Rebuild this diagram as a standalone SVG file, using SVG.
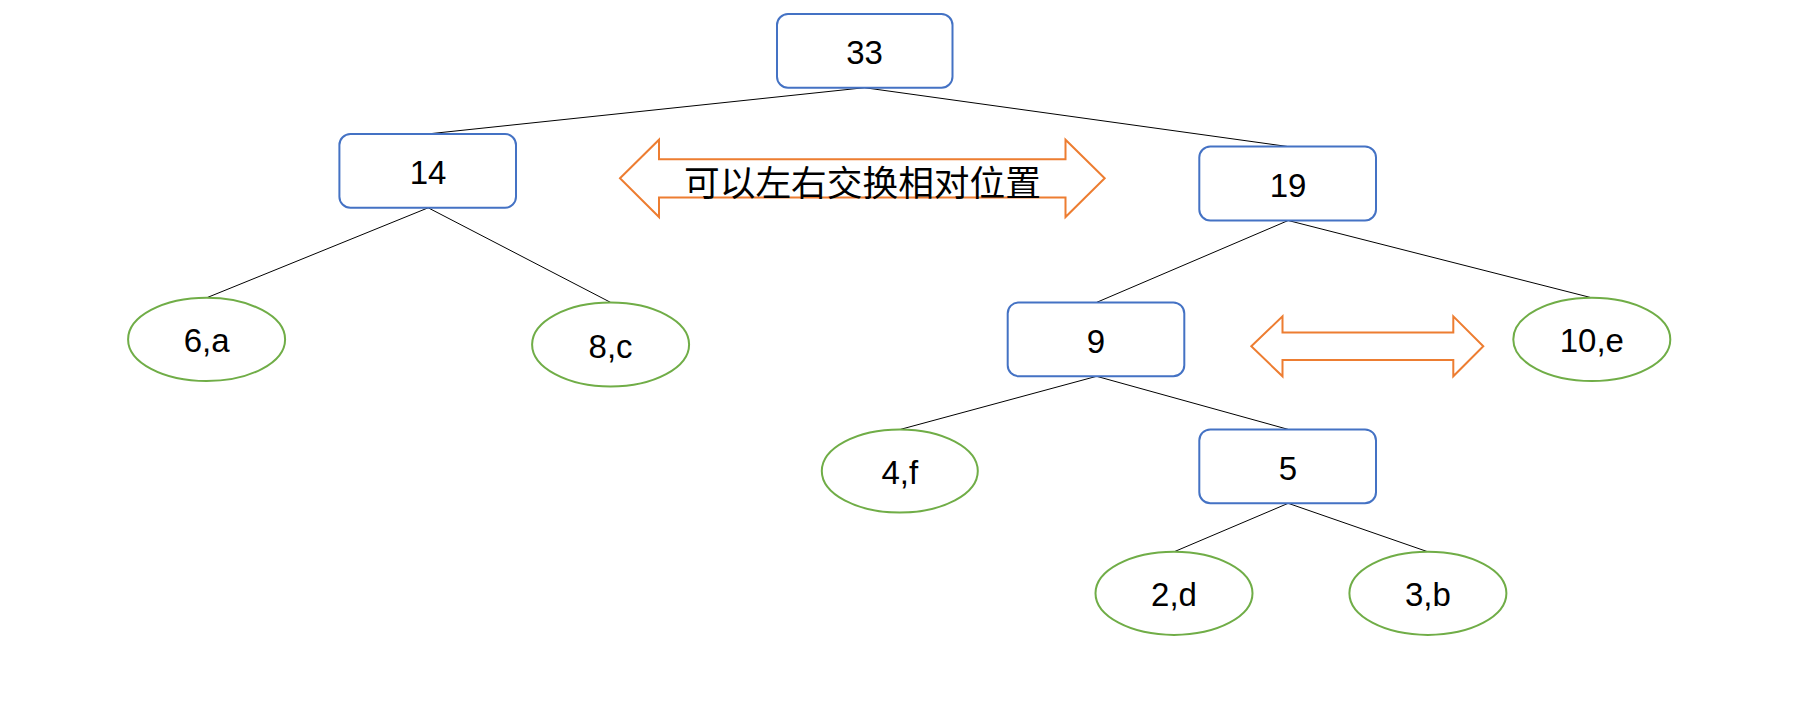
<svg xmlns="http://www.w3.org/2000/svg" width="1810" height="718" viewBox="0 0 1810 718">
<style>
.box{fill:#fff;stroke:#4472C4;stroke-width:2}
.leaf{fill:#fff;stroke:#70AD47;stroke-width:2}
.arr{fill:#fff;stroke:#ED7D31;stroke-width:2;stroke-linejoin:miter}
.edge{stroke:#000;stroke-width:1;fill:none}
.lbl{font-family:"Liberation Sans","Noto Sans CJK SC",sans-serif;font-size:33px;fill:#000;text-anchor:middle;dominant-baseline:central}
.cjk{font-family:"Noto Sans CJK SC","Liberation Sans",sans-serif;font-size:35.7px;fill:#000;text-anchor:middle;dominant-baseline:central}
</style>
<rect width="1810" height="718" fill="#fff"/>
<g id="connectors">
<line class="edge" x1="864.5" y1="87.7" x2="428.2" y2="133.9"/>
<line class="edge" x1="864.5" y1="87.7" x2="1288.2" y2="146.6"/>
<line class="edge" x1="428.2" y1="207.8" x2="206.6" y2="297.8"/>
<line class="edge" x1="428.2" y1="207.8" x2="610.6" y2="302.4"/>
<line class="edge" x1="1288.2" y1="220.5" x2="1096.6" y2="302.4"/>
<line class="edge" x1="1288.2" y1="220.5" x2="1591.8" y2="297.8"/>
<line class="edge" x1="1096.6" y1="376.3" x2="900.4" y2="429.4"/>
<line class="edge" x1="1096.6" y1="376.3" x2="1288.2" y2="429.4"/>
<line class="edge" x1="1288.2" y1="503.3" x2="1174" y2="551.8"/>
<line class="edge" x1="1288.2" y1="503.3" x2="1427.9" y2="551.8"/>
</g>
<g id="swap-arrow-1">
<polygon class="arr" points="620,178.3 659,139.7 659,159.3 1065.5,159.3 1065.5,139.7 1104.7,178.3 1065.5,217 1065.5,197.4 659,197.4 659,217"/>
<text class="cjk" x="862.5" y="180">可以左右交换相对位置</text>
</g>
<g id="swap-arrow-2">
<polygon class="arr" points="1251.3,346.3 1282.5,316.3 1282.5,332.4 1453.3,332.4 1453.3,316.3 1483.3,346.3 1453.3,376.3 1453.3,360.1 1282.5,360.1 1282.5,376.3"/>
</g>
<g id="n33"><rect class="box" x="777" y="14" width="175.5" height="73.7" rx="11"/><text class="lbl" x="864.5" y="52">33</text></g>
<g id="n14"><rect class="box" x="339.4" y="134" width="176.6" height="73.8" rx="11"/><text class="lbl" x="428" y="172">14</text></g>
<g id="n19"><rect class="box" x="1199.3" y="146.6" width="176.7" height="73.9" rx="11"/><text class="lbl" x="1288" y="185">19</text></g>
<g id="n9"><rect class="box" x="1007.7" y="302.4" width="176.6" height="73.9" rx="11"/><text class="lbl" x="1096" y="341">9</text></g>
<g id="n5"><rect class="box" x="1199.3" y="429.4" width="176.7" height="73.9" rx="11"/><text class="lbl" x="1288" y="468">5</text></g>
<g id="n6a"><ellipse class="leaf" cx="206.6" cy="339.4" rx="78.5" ry="41.6"/><text class="lbl" x="206.6" y="340.5">6,a</text></g>
<g id="n8c"><ellipse class="leaf" cx="610.6" cy="344.5" rx="78.5" ry="42"/><text class="lbl" x="610.6" y="346">8,c</text></g>
<g id="n10e"><ellipse class="leaf" cx="1591.8" cy="339.4" rx="78.5" ry="41.6"/><text class="lbl" x="1591.8" y="340.5">10,e</text></g>
<g id="n4f"><ellipse class="leaf" cx="899.8" cy="471" rx="78" ry="41.6"/><text class="lbl" x="899.8" y="472">4,f</text></g>
<g id="n2d"><ellipse class="leaf" cx="1174" cy="593.3" rx="78.5" ry="41.6"/><text class="lbl" x="1174" y="594.5">2,d</text></g>
<g id="n3b"><ellipse class="leaf" cx="1427.9" cy="593.3" rx="78.5" ry="41.6"/><text class="lbl" x="1427.9" y="594.5">3,b</text></g>
</svg>
